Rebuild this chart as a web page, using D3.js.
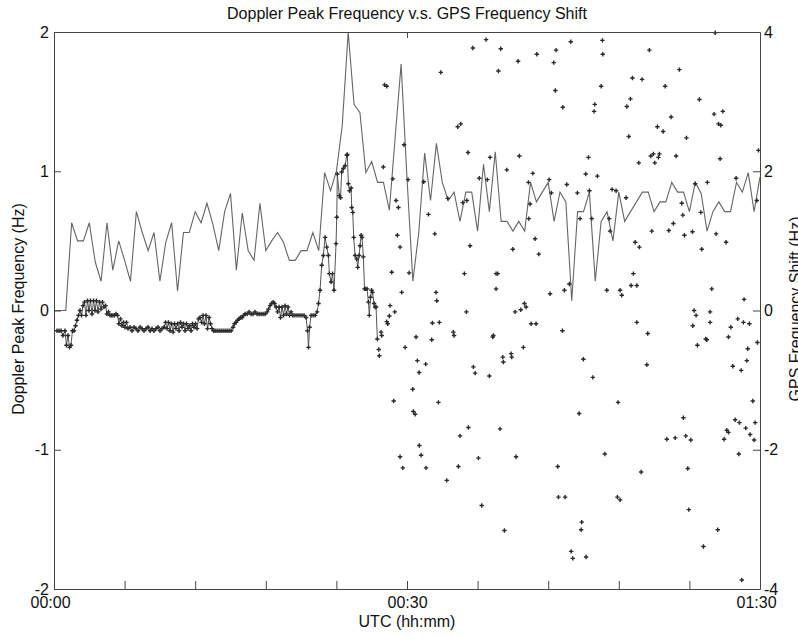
<!DOCTYPE html>
<html>
<head>
<meta charset="utf-8">
<script src="https://cdn.jsdelivr.net/npm/d3@7"></script>
<style>
  body { margin: 0; background: #fff; }
  svg { font-family: "Liberation Sans", Arial, sans-serif; }
</style>
</head>
<body>
<svg id="chart" width="798" height="637"></svg>
<script>
// Doppler peak frequency (Hz), one sample every half minute from 00:00
const dopplerStep = 0.5;
const dopplerValues = [0,0,0,0.63,0.5,0.5,0.63,0.35,0.21,0.63,
  0.29,0.5,0.36,0.21,0.71,0.56,0.43,0.56,0.21,0.49,
  0.63,0.14,0.56,0.56,0.71,0.63,0.77,0.62,0.43,0.71,
  0.84,0.29,0.7,0.43,0.36,0.77,0.43,0.5,0.56,0.49,
  0.36,0.36,0.43,0.43,0.56,0.43,0.99,0.86,1.0,1.33,
  2.0,1.48,1.42,0.99,1.07,0.92,0.92,0.72,1.25,1.77,
  0.95,0.21,0.56,1.13,0.79,1.2,0.92,0.79,0.85,0.64,
  0.85,0.85,0.57,1.05,0.71,1.14,0.64,0.64,0.57,0.64,
  0.57,0.92,0.78,0.85,0.92,0.64,0.85,0.78,0.07,0.71,
  0.71,0.85,0.21,0.64,0.71,0.5,0.85,0.64,0.71,0.78,
  0.85,0.85,0.71,0.78,0.78,0.92,0.85,0.85,0.71,0.92,
  0.84,0.57,0.71,0.78,0.71,0.71,0.92,0.85,0.99,0.71,0.96];

// GPS frequency shift (Hz): continuous track [minute, shift]
const gpsTrack = [
  [0.26,-0.29],[0.43,-0.29],[0.6,-0.29],[0.76,-0.36],[0.93,-0.29],[1.06,-0.5],[1.19,-0.36],[1.32,-0.53],[1.44,-0.5],[1.57,-0.29],
  [1.7,-0.29],[1.83,-0.22],[1.95,-0.14],[2.08,-0.07],[2.21,0],[2.34,-0.07],[2.46,0.07],[2.59,0.12],[2.72,-0.07],[2.85,0.14],
  [2.97,0],[3.1,0.14],[3.23,-0.05],[3.36,0.14],[3.48,0],[3.61,0.14],[3.74,-0.02],[3.87,0.12],[3.99,0.02],[4.12,0.12],
  [4.25,0.05],[4.38,0.07],[4.5,-0.05],[4.63,-0.02],[4.76,-0.07],[4.89,-0.07],[5.01,-0.07],[5.14,-0.07],[5.27,-0.05],[5.4,-0.07],
  [5.52,-0.19],[5.65,-0.12],[5.78,-0.22],[5.91,-0.17],[6.03,-0.24],[6.16,-0.17],[6.29,-0.26],
  [6.46,-0.24],[6.63,-0.29],[6.8,-0.24],[6.97,-0.26],[7.14,-0.29],[7.31,-0.24],[7.48,-0.26],[7.65,-0.29],[7.82,-0.26],[7.99,-0.24],
  [8.16,-0.29],[8.33,-0.26],[8.5,-0.29],[8.67,-0.26],[8.84,-0.24],[9.01,-0.29],[9.18,-0.26],[9.35,-0.24],
  [9.48,-0.17],[9.61,-0.26],[9.73,-0.17],[9.86,-0.29],[9.99,-0.19],[10.12,-0.31],[10.24,-0.19],[10.37,-0.26],
  [10.5,-0.19],[10.63,-0.29],[10.75,-0.17],[10.88,-0.24],[11.01,-0.19],[11.14,-0.29],[11.26,-0.19],[11.39,-0.26],
  [11.52,-0.22],[11.65,-0.29],[11.77,-0.19],[11.9,-0.24],[12.03,-0.19],[12.16,-0.26],[12.28,-0.12],[12.41,-0.1],
  [12.54,-0.17],[12.67,-0.07],[12.79,-0.19],[12.92,-0.07],[13.05,-0.26],[13.18,-0.1],[13.3,-0.19],[13.43,-0.26],
  [13.56,-0.29],[13.69,-0.29],[13.86,-0.29],[14.03,-0.29],[14.2,-0.29],[14.37,-0.29],[14.54,-0.29],[14.71,-0.29],[14.88,-0.29],[15.05,-0.29],[15.22,-0.24],
  [15.34,-0.19],[15.47,-0.17],[15.6,-0.14],[15.73,-0.12],[15.85,-0.1],[15.98,-0.1],[16.11,-0.07],[16.24,-0.05],[16.41,-0.05],[16.58,-0.02],
  [16.75,-0.05],[16.92,-0.05],[17.09,-0.02],[17.26,-0.05],[17.43,-0.05],[17.6,-0.05],[17.77,-0.05],[17.94,-0.05],[18.11,-0.02],
  [18.23,0.02],[18.36,0.07],[18.49,0.1],[18.62,0.12],[18.74,0.1],[18.87,0.05],[19.0,-0.02],[19.13,0.05],[19.25,-0.1],[19.38,0.05],
  [19.51,-0.07],[19.64,0.07],[19.76,-0.05],[19.89,0.05],[20.02,-0.07],[20.15,-0.02],[20.27,-0.07],
  [20.4,-0.07],[20.57,-0.07],[20.74,-0.07],[20.91,-0.07],[21.08,-0.07],[21.25,-0.07],[21.42,-0.1],
  [21.55,-0.29],[21.63,-0.53],[21.72,-0.24],[21.85,-0.07],[22.02,-0.07],[22.19,-0.07],[22.36,-0.02],[22.48,0.1],[22.61,0.29],[22.75,0.65],
  [22.89,0.79],[23.04,1.05],[23.18,0.91],[23.32,0.79],[23.4,0.53],[23.55,0.41],[23.67,0.53],[23.8,0.29],[23.97,0.96],[24.03,1.34],
  [24.08,1.96],[24.25,1.65],[24.35,1.62],[24.45,1.99],[24.59,2.04],[24.74,2.08],[24.88,2.23],[24.93,2.24],[25.02,1.82],[25.12,1.72],
  [25.25,1.76],[25.3,1.48],[25.39,1.41],[25.47,1.05],[25.59,0.79],[25.73,0.74],[25.81,0.62],[25.93,0.79],[26.01,0.93],[26.1,1.08],
  [26.18,1.05],[26.29,0.77],[26.39,0.31],[26.48,0.31],[26.61,0.31],[26.72,0.12],[26.8,-0.07],[26.9,0.19],[26.99,0.29],[27.07,0.26],
  [27.2,0.1],[27.29,0.05],[27.37,0.05],[27.48,-0.41]
];

// GPS frequency shift (Hz): scattered samples after the track breaks up [minute, shift]
const gpsScatter = [
  [56.19,3.99],[36.72,3.89],[35.59,3.77],[37.97,3.76],[43.92,3.86],[46.61,3.88],[50.6,3.74],[41.03,3.68],[42.67,3.74],[46.64,3.68],
  [39.44,3.58],[42.47,3.56],[32.87,3.42],[37.77,3.44],[53.15,3.46],[49.16,3.34],[49.98,3.32],[46.5,3.22],[51.94,3.22],[42.61,3.16],
  [48.99,3.04],[54.85,3.03],[43.24,2.92],[45.96,2.96],[45.9,2.86],[48.68,2.93],[56.1,2.82],[56.84,2.86],[52.45,2.78],[34.57,2.68],
  [34.31,2.64],[51.28,2.64],[51.77,2.57],[56.47,2.68],[56.67,2.66],[48.85,2.5],[53.75,2.48],[59.87,2.3],[29.75,2.38],[35.19,2.27],
  [37.06,2.2],[39.55,2.22],[45.42,2.2],[50.72,2.22],[50.94,2.25],[51.45,2.25],[51.37,2.2],[51.06,2.12],[49.7,2.12],[52.87,2.22],
  [56.61,2.18],[38.48,2.02],[40.69,1.97],[45.19,1.96],[46.18,1.93],[36.15,1.9],[36.83,1.88],[30.09,1.88],[31.42,1.85],[40.32,1.84],
  [42.08,1.88],[57.97,1.9],[55.53,1.84],[54.49,1.82],[43.58,1.81],[47.43,1.74],[47.77,1.72],[42.27,1.69],[44.48,1.69],[48.62,1.62],
  [33.46,1.61],[28.09,3.24],[28.28,3.22],[27.99,2.06],[28.79,1.89],[29.41,0.91],[31.82,1.38],[32.36,1.1],[34.74,1.55],[35.08,1.58],
  [35.36,0.93],[34.88,0.53],[35.05,-0.02],[32.47,0.26],[32.53,0.14],[29.55,0.26],[32.16,-0.18],[32.75,-0.17],[30.77,-0.38],[29.84,-0.53],
  [32.1,-0.42],[33.94,-0.31],[34.0,-0.36],[37.34,-0.36],[37.29,-0.38],[37.57,0.53],[37.71,0.53],[37.57,0.31],[38.99,0.88],[39.19,-0.02],
  [39.67,0.01],[39.98,0.1],[40.12,0.05],[40.55,-0.19],[40.97,-0.19],[39.89,-0.53],[40.35,1.32],[40.89,1.03],[41.2,0.81],[42.16,0.24],
  [43.21,-0.29],[43.38,0.29],[43.8,0.38],[44.71,1.32],[45.5,1.72],[45.7,1.32],[46.98,0.29],[47.18,1.32],[47.26,1.14],[48.11,0.29],
  [48.25,0.22],[49.39,0.98],[49.75,0.91],[49.24,0.53],[49.05,0.36],[49.53,0.36],[49.53,-0.17],[50.46,-0.33],[50.8,1.14],[52.25,1.15],
  [52.64,1.25],[53.35,1.54],[53.44,1.37],[53.58,1.08],[54.26,1.13],[55.05,0.88],[55.9,0.31],[56.27,1.1],[57.12,0.98],[59.73,1.58],
  [54.29,-0.22],[54.4,0],[54.57,-0.07],[54.68,-0.5],[55.39,-0.41],[55.48,-0.42],[55.76,-0.02],[55.76,-0.17],[58.65,0.16],[58.11,-0.12],
  [58.59,-0.17],[59.1,-0.19],[57.52,-0.24],[57.32,-0.38],[58.96,-0.55],[59.78,-0.46],[29.41,-2.1],[29.64,-2.26],[30.88,-0.72],[31.59,-0.77],
  [31.03,-0.89],[30.49,-1.13],[30.54,-1.45],[30.69,-1.49],[32.67,-1.32],[31.05,-1.94],[31.2,-2.08],[31.62,-2.26],[33.38,-2.44],[34.37,-2.24],
  [34.51,-1.8],[35.22,-1.68],[35.64,-0.81],[35.79,-0.9],[37.0,-0.94],[36.07,-2.12],[36.35,-2.8],[37.91,-1.7],[38.14,-0.67],[38.19,-0.74],
  [38.85,-0.62],[38.9,-0.67],[38.28,-3.16],[39.27,-2.1],[42.81,-2.24],[42.87,-2.68],[43.44,-2.68],[44.63,-1.48],[44.99,-0.7],[45.79,-0.96],
  [44.85,-3.04],[44.8,-3.15],[43.95,-3.46],[44.09,-3.56],[45.22,-3.54],[46.81,-2.06],[47.94,-1.32],[47.88,-2.68],[48.11,-2.72],[49.9,-2.32],
  [50.38,-0.78],[52.08,-1.85],[52.79,-1.83],[53.49,-1.54],[53.69,-1.8],[54.12,-1.86],[53.86,-2.27],[53.95,-2.86],[55.19,-3.39],[56.41,-3.15],
  [56.95,-1.85],[57.18,-1.72],[57.32,-1.75],[57.69,-0.8],[57.89,-1.57],[58.25,-1.61],[58.2,-2.06],[58.4,-0.86],[58.88,-0.72],[58.45,-3.87],
  [58.79,-1.69],[59.16,-1.78],[59.5,-1.86],[59.39,-1.3],[59.59,-1.61],[28.7,0.55],[30.18,0.54],[28.56,0.07],[28.96,-0.02],[28.5,-0.08],
  [28.28,-0.16],[28.36,-0.19],[27.8,-0.31],[27.85,-0.36],[27.6,-0.56],[27.65,-0.65],[28.87,-1.3],[29.07,1.58],[29.27,1.48],[29.18,1.08],
  [40.46,1.53],[54.97,1.41]
];

// axes
const xTickMinutes = [0,6,12,18,24,30,36,42,48,54,60];
const xLabelMinutes = [0,30,60];
const xLabels = ["00:00","00:30","01:30"];
const leftTicks = [-2,-1,0,1,2];
const rightTicks = [-4,-2,0,2,4];

const W = 798, H = 637;
const margin = {top: 32, right: 38, bottom: 48, left: 54};

const svg = d3.select("#chart");

const x = d3.scaleLinear().domain([0, 60]).range([margin.left, W - margin.right]);
const yL = d3.scaleLinear().domain([-2, 2]).range([H - margin.bottom, margin.top]);
const yR = d3.scaleLinear().domain([-4, 4]).range([H - margin.bottom, margin.top]);

const axisColor = "#444";

// doppler line (left axis)
const dopplerLine = d3.line()
  .x((d, i) => x(i * dopplerStep))
  .y(d => yL(d));

svg.append("path")
  .datum(dopplerValues)
  .attr("d", dopplerLine)
  .attr("fill", "none")
  .attr("stroke", "#666")
  .attr("stroke-width", 1.1);

// gps track (right axis)
const gpsLine = d3.line()
  .x(d => x(d[0]))
  .y(d => yR(d[1]));

svg.append("path")
  .datum(gpsTrack)
  .attr("d", gpsLine)
  .attr("fill", "none")
  .attr("stroke", "#555")
  .attr("stroke-width", 1);

function plusPath(d) {
  let px = x(d[0]), py = yR(d[1]), s = 2.2;
  return "M" + (px - s) + "," + py + "H" + (px + s) + "M" + px + "," + (py - s) + "V" + (py + s);
}

svg.append("g")
  .selectAll("path")
  .data(gpsTrack.concat(gpsScatter))
  .enter().append("path")
  .attr("d", plusPath)
  .attr("stroke", "#2a2a2a")
  .attr("stroke-width", 1.4)
  .attr("fill", "none");

// left axis
svg.append("g")
  .attr("transform", "translate(" + margin.left + ",0)")
  .call(d3.axisLeft(yL).tickValues(leftTicks).tickSize(-7).tickSizeOuter(0).tickPadding(5)
    .tickFormat(d => String(d)));

// right axis
svg.append("g")
  .attr("transform", "translate(" + (W - margin.right) + ",0)")
  .call(d3.axisRight(yR).tickValues(rightTicks).tickSize(-7).tickSizeOuter(0).tickPadding(4)
    .tickFormat(d => String(d)));

// bottom axis
const xAxisG = svg.append("g")
  .attr("transform", "translate(0," + (H - margin.bottom) + ")")
  .call(d3.axisBottom(x).tickValues(xTickMinutes).tickSize(-8).tickSizeOuter(0).tickPadding(8)
    .tickFormat(d => {
      let k = xLabelMinutes.indexOf(d);
      return k >= 0 ? xLabels[k] : "";
    }));
// end labels sit a little left of their ticks in the original
xAxisG.selectAll(".tick text").attr("dx", d => (d === 0 || d === 60) ? -4 : 0);

// top frame with its single tick
svg.append("g").attr("transform", "translate(0," + margin.top + ")")
  .call(d3.axisTop(x).tickValues([30]).tickSize(-6).tickSizeOuter(0).tickFormat(""));

svg.selectAll(".domain, .tick line").attr("stroke", axisColor);
svg.selectAll(".tick text").attr("font-size", 16).attr("fill", "#111")
  .attr("font-family", "'Liberation Sans', Arial, sans-serif");

// titles
svg.append("text")
  .attr("x", (margin.left + W - margin.right) / 2)
  .attr("y", 19)
  .attr("text-anchor", "middle")
  .attr("font-size", 16)
  .attr("fill", "#111")
  .text("Doppler Peak Frequency v.s. GPS Frequency Shift");

svg.append("text")
  .attr("x", (margin.left + W - margin.right) / 2)
  .attr("y", 627)
  .attr("text-anchor", "middle")
  .attr("font-size", 16)
  .attr("fill", "#111")
  .text("UTC (hh:mm)");

svg.append("text")
  .attr("transform", "translate(24,309) rotate(-90)")
  .attr("text-anchor", "middle")
  .attr("font-size", 16)
  .attr("fill", "#111")
  .text("Doppler Peak Frequency (Hz)");

// right label runs off the edge of the frame, as in the original
svg.append("text")
  .attr("transform", "translate(801,309) rotate(-90)")
  .attr("text-anchor", "middle")
  .attr("font-size", 16)
  .attr("fill", "#111")
  .text("GPS Frequency Shift (Hz)");
</script>
</body>
</html>
